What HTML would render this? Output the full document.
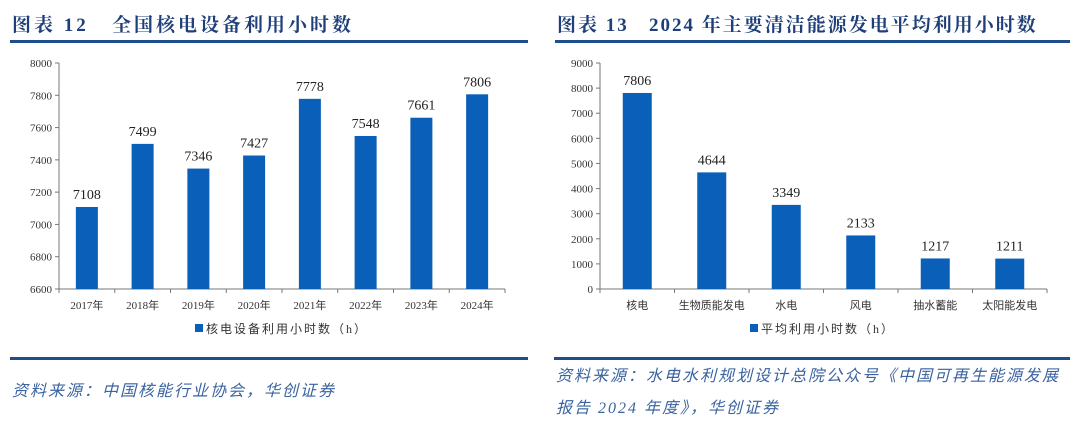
<!DOCTYPE html>
<html><head><meta charset="utf-8"><style>
body{margin:0;width:1080px;height:424px;background:#fff;overflow:hidden;position:relative;font-family:"Liberation Serif","Noto Serif CJK SC",serif}
.t{position:absolute;top:10px;font-size:19px;font-weight:bold;color:#1f3f7a;white-space:nowrap;letter-spacing:3px}
.ln{position:absolute;height:3px;background:#1f4e8c}
.src{position:absolute;font-style:italic;color:#3a63a0;font-size:16px;font-family:"Liberation Serif","Noto Sans CJK SC",serif;white-space:nowrap;letter-spacing:2px}
svg{position:absolute;left:0;top:0}
svg text{font-family:"Liberation Serif","Noto Sans CJK SC",serif}
</style></head><body>
<div class="t" style="left:12px">图表 12&nbsp;&nbsp;&nbsp;全国核电设备利用小时数</div>
<div class="t" style="left:557px;letter-spacing:2px">图表 13&nbsp;&nbsp;&nbsp;2024 年主要清洁能源发电平均利用小时数</div>
<div class="ln" style="left:10px;width:518px;top:40px"></div>
<div class="ln" style="left:555px;width:515px;top:40px"></div>
<div class="ln" style="left:10px;width:518px;top:357px"></div>
<div class="ln" style="left:554px;width:516px;top:357px"></div>
<div class="src" style="left:12px;top:377px">资料来源：中国核能行业协会，华创证券</div>
<div class="src" style="left:556px;top:362px">资料来源：水电水利规划设计总院公众号《中国可再生能源发展</div>
<div class="src" style="left:556px;top:394px">报告 2024 年度》，华创证券</div>
<svg id="s" width="1080" height="424"></svg>
<script>
const leftCats=["2017年","2018年","2019年","2020年","2021年","2022年","2023年","2024年"];
const leftVals=[7108,7499,7346,7427,7778,7548,7661,7806];
const leftTicks=[6600,6800,7000,7200,7400,7600,7800,8000];
const rightCats=["核电","生物质能发电","水电","风电","抽水蓄能","太阳能发电"];
const rightVals=[7806,4644,3349,2133,1217,1211];
const rightTicks=[0,1000,2000,3000,4000,5000,6000,7000,8000,9000];
const NS="http://www.w3.org/2000/svg",svg=document.getElementById('s');
function mk(t,a,txt){const e=document.createElementNS(NS,t);for(const k in a)e.setAttribute(k,a[k]);if(txt!=null)e.textContent=txt;svg.appendChild(e);return e;}
function chart(o){
 const y=v=>o.y1-(v-o.min)/(o.max-o.min)*(o.y1-o.y0);
 const cw=(o.x1-o.x0)/o.cats.length;
 let e=mk('line',{x1:o.x0,y1:o.y0,x2:o.x0,y2:o.y1,stroke:'#777'});
 
 e=mk('line',{x1:o.x0,y1:o.y1,x2:o.x1,y2:o.y1,stroke:'#777'});
 
 o.ticks.forEach(t=>{mk('line',{x1:o.x0-4,y1:y(t),x2:o.x0,y2:y(t),stroke:'#777'});
  e=mk('text',{x:o.x0-7,y:y(t)+4,'font-size':11,'text-anchor':'end',fill:'#333'},t);
  });
 for(let i=0;i<=o.cats.length;i++)mk('line',{x1:o.x0+i*cw,y1:o.y1,x2:o.x0+i*cw,y2:o.y1+4,stroke:'#777'});
 o.cats.forEach((c,i)=>{const cx=o.x0+(i+.5)*cw,v=o.vals[i];
  e=mk('rect',{x:cx-o.bw/2,y:y(v),width:o.bw,height:o.y1-y(v),fill:'#0a5fb8'});
  
  e=mk('text',{x:cx,y:y(v)-8,'font-size':14,'text-anchor':'middle',fill:'#222','font-family':'Liberation Sans'},v);
  
  e=mk('text',{x:cx,y:o.y1+20,'font-size':11,'text-anchor':'middle',fill:'#333'},c);
  });
 e=mk('rect',{x:o.lx,y:324,width:8,height:8,fill:'#0a5fb8'});
 
 e=mk('text',{x:o.lx+11,y:333,'font-size':12,fill:'#333','letter-spacing':'2'},o.leg);
 
}
chart({p:'left',x0:59,x1:505,y0:63,y1:289,min:6600,max:8000,cats:leftCats,vals:leftVals,ticks:leftTicks,bw:22,lx:195,leg:'核电设备利用小时数（h）'});
chart({p:'right',x0:600,x1:1047,y0:63,y1:289,min:0,max:9000,cats:rightCats,vals:rightVals,ticks:rightTicks,bw:29,lx:750,leg:'平均利用小时数（h）'});
</script>
</body></html>
